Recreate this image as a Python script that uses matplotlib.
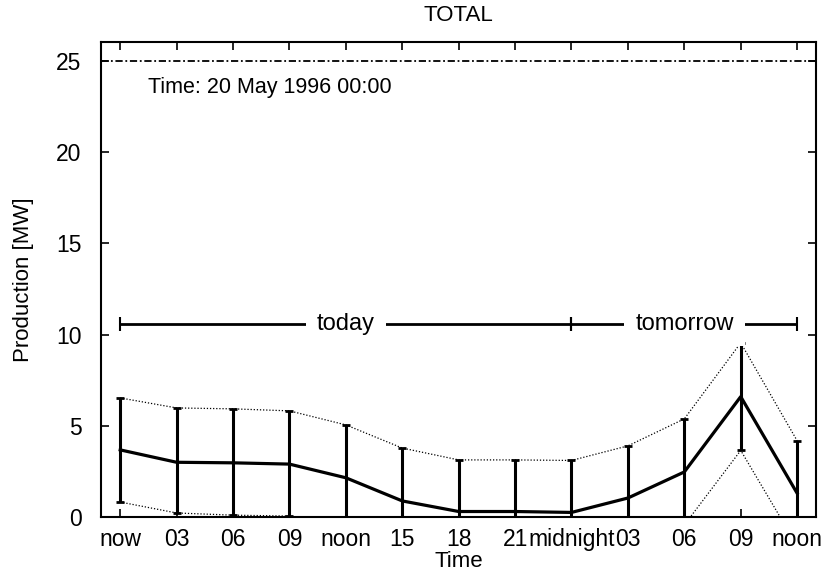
import numpy as np
import matplotlib.pyplot as plt

# forecast of total production, one point every 3 hours
hours = ["now", "03", "06", "09", "noon", "15", "18", "21",
         "midnight", "03", "06", "09", "noon"]
mean = [3.68, 3.0, 2.97, 2.9, 2.15, 0.88, 0.3, 0.3, 0.25, 1.04, 2.47, 6.6, 1.3]
upper = [6.53, 5.98, 5.93, 5.82, 5.05, 3.78, 3.13, 3.13, 3.1, 3.9, 5.38, 9.55, 4.18]
lower = [0.82, 0.22, 0.1, 0.05, -0.75, -2.0, -2.5, -2.5, -2.6, -1.8, -0.44, 3.65, -1.58]
capacity = 25

periods = ["today", "tomorrow"]
period_start = [0, 8]
period_end = [8, 12]
period_level = 10.6

x = np.arange(len(hours))
mean = np.array(mean)
upper = np.array(upper)
lower = np.array(lower)

plt.rcParams["font.family"] = ["Liberation Sans", "DejaVu Sans"]

fig = plt.figure(figsize=(8.24, 5.75), dpi=100)
ax = fig.add_axes([0.1226, 0.1009, 0.8674, 0.8261])

# spread band edges (thin dotted)
ax.plot(x, upper, color="black", linestyle=(0, (1, 1.5)), linewidth=0.9)
ax.plot(x, lower, color="black", linestyle=(0, (1, 1.5)), linewidth=0.9)

# error bars + mean
ax.errorbar(x, mean, yerr=[mean - lower, upper - mean], color="black",
            linewidth=2.3, elinewidth=2.2, capsize=3, capthick=2)

# installed capacity
ax.axhline(capacity, color="black", linestyle=(0, (4, 1.5, 1, 1.5)), linewidth=1.3)

# today / tomorrow bars
for name, s, e in zip(periods, period_start, period_end):
    c = (s + e) / 2
    ax.errorbar([c], [period_level], xerr=[[c - s], [e - c]], color="black",
                linewidth=2, capsize=5, capthick=1.5)
    ax.text(c, period_level, name, ha="center", va="center", fontsize=17,
            bbox=dict(facecolor="white", edgecolor="none", pad=8))

ax.text(0.066, 0.905, "Time: 20 May 1996 00:00", transform=ax.transAxes,
        fontsize=15.5, ha="left", va="center")

ax.set_xlim(-0.34, 12.33)
ax.set_ylim(0, 26.05)
ax.set_xticks(x)
ax.set_xticklabels(hours, fontsize=16.5)
ax.set_yticks([0, 5, 10, 15, 20, 25])
ax.tick_params(axis="y", labelsize=16.5, pad=14)
ax.tick_params(direction="in", top=True, right=True, length=6, width=1.2)
ax.tick_params(axis="x", pad=8)
for sp in ax.spines.values():
    sp.set_linewidth(1.5)

ax.set_title("TOTAL", fontsize=16, pad=15)
ax.set_xlabel("Time", fontsize=16, labelpad=0)
ax.set_ylabel("Production [MW]", fontsize=16, labelpad=16)

fig.savefig("out.png", dpi=100)
